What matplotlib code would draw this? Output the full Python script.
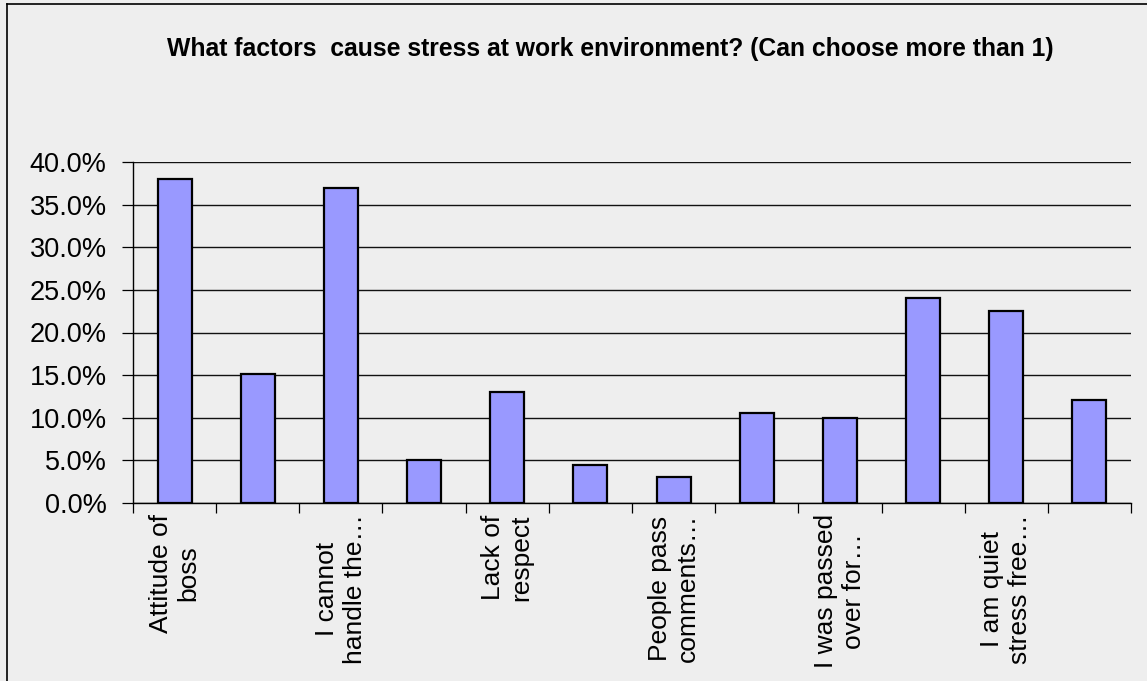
"""
Bar chart of workplace stress factors (multiple answers allowed).
"""

import numpy as np
import matplotlib
matplotlib.use("Agg")
import matplotlib.pyplot as plt
from matplotlib.lines import Line2D
from matplotlib.ticker import FuncFormatter, MultipleLocator

# survey shares in percent, one per answer option (12 options)
shares = [38.0, 15.1, 37.0, 5.0, 13.0, 4.5, 3.0, 10.5, 10.0, 24.0, 22.5, 12.1]

# only every second option gets a printed label on the axis
labels = [
    "Attitude of\nboss", "",
    "I cannot\nhandle the\u2026", "",
    "Lack of\nrespect", "",
    "People pass\ncomments\u2026", "",
    "I was passed\nover for\u2026", "",
    "I am quiet\nstress free\u2026", "",
]

title = "What factors  cause stress at work environment? (Can choose more than 1)"

bg = "#eeeeee"
bar_color = "#9999ff"

plt.rcParams["font.family"] = ["Liberation Sans", "DejaVu Sans"]

W, H = 1147, 681
fig = plt.figure(figsize=(W / 100, H / 100), dpi=100, facecolor=bg)
ax = fig.add_axes([133 / W, 1 - 503 / H, 998 / W, 341 / H], facecolor=bg)

x = np.arange(len(shares))
ax.bar(x, shares, width=0.41, color=bar_color, edgecolor="black",
       linewidth=1.6, zorder=3)

ax.set_xlim(-0.5, len(shares) - 0.5)
ax.set_ylim(0, 40)
ax.yaxis.set_major_locator(MultipleLocator(5))
ax.yaxis.set_major_formatter(FuncFormatter(lambda v, _: f"{v:.1f}%"))
ax.grid(axis="y", color="#111111", linewidth=1.0, zorder=1)

# boundary ticks between categories, labels at category centres
ax.set_xticks(np.arange(len(shares) + 1) - 0.5)
ax.set_xticklabels([])
ax.set_xticks(x, minor=True)
ax.set_xticklabels(labels, minor=True, rotation=90, fontsize=19,
                   multialignment="center", linespacing=1.2)
ax.tick_params(axis="x", which="major", length=7, width=0.9, color="black")
ax.tick_params(axis="x", which="minor", length=0, pad=8)
ax.tick_params(axis="y", length=8, width=0.9, pad=11, labelsize=19.5,
               color="black")

for side in ("top", "right"):
    ax.spines[side].set_visible(False)
for side in ("left", "bottom"):
    ax.spines[side].set_linewidth(1.0)
    ax.spines[side].set_color("black")

fig.text(610 / W, 1 - 49 / H, title, ha="center", va="center",
         fontsize=17.8, fontweight="bold")

# outer frame (left and top edges)
fig.add_artist(Line2D([7 / W, 7 / W], [0, 1 - 4 / H], color="black",
                      lw=1.2, transform=fig.transFigure))
fig.add_artist(Line2D([7 / W, 1], [1 - 4 / H, 1 - 4 / H], color="black",
                      lw=1.2, transform=fig.transFigure))

fig.savefig("out.png", dpi=100, facecolor=bg)
